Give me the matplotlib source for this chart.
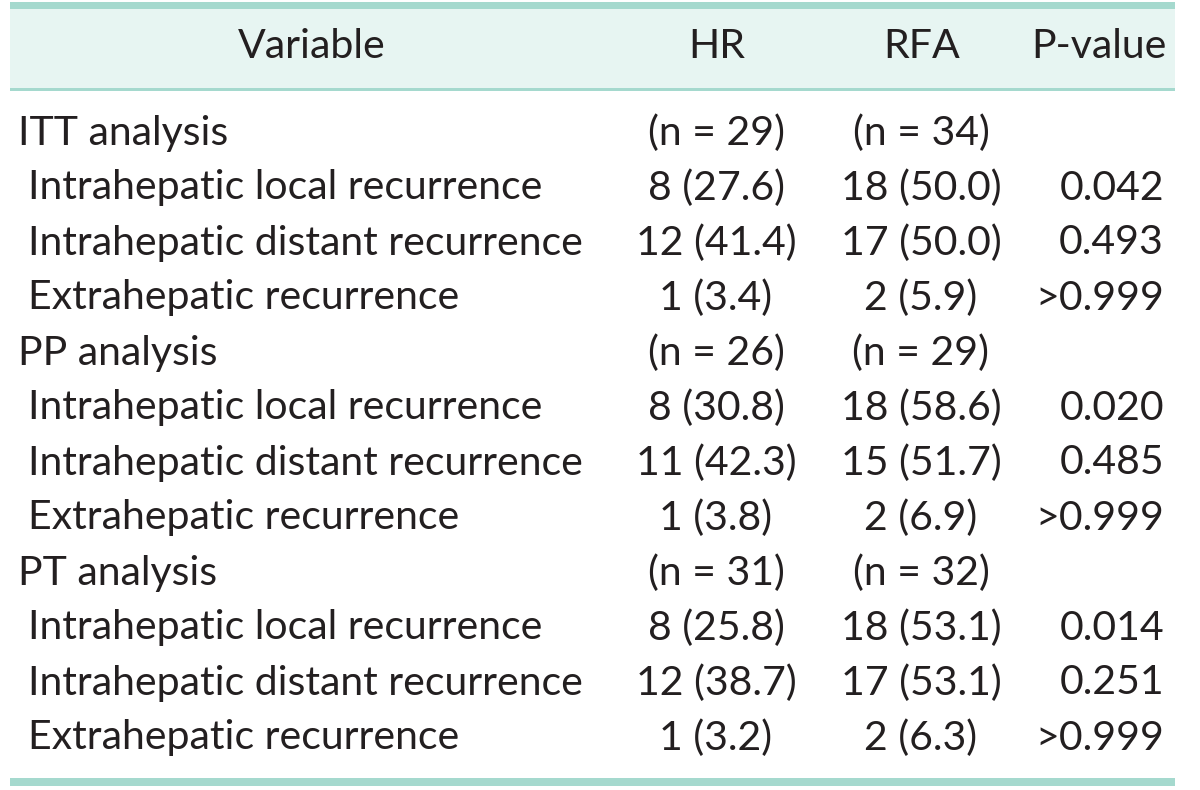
import matplotlib
matplotlib.use("Agg")
import matplotlib.pyplot as plt
from matplotlib.patches import Rectangle

headers = ["Variable", "HR", "RFA", "P-value"]
variables = ["ITT analysis", "Intrahepatic local recurrence", "Intrahepatic distant recurrence",
             "Extrahepatic recurrence",
             "PP analysis", "Intrahepatic local recurrence", "Intrahepatic distant recurrence",
             "Extrahepatic recurrence",
             "PT analysis", "Intrahepatic local recurrence", "Intrahepatic distant recurrence",
             "Extrahepatic recurrence"]
is_group = [True, False, False, False, True, False, False, False, True, False, False, False]
hr = ["(n = 29)", "8 (27.6)", "12 (41.4)", "1 (3.4)",
      "(n = 26)", "8 (30.8)", "11 (42.3)", "1 (3.8)",
      "(n = 31)", "8 (25.8)", "12 (38.7)", "1 (3.2)"]
rfa = ["(n = 34)", "18 (50.0)", "17 (50.0)", "2 (5.9)",
       "(n = 29)", "18 (58.6)", "15 (51.7)", "2 (6.9)",
       "(n = 32)", "18 (53.1)", "17 (53.1)", "2 (6.3)"]
pvals = ["", "0.042", "0.493", ">0.999",
         "", "0.020", "0.485", ">0.999",
         "", "0.014", "0.251", ">0.999"]

W, H = 1200, 790
fig = plt.figure(figsize=(W / 100, H / 100), dpi=100)
ax = fig.add_axes([0, 0, 1, 1])
ax.set_xlim(0, W)
ax.set_ylim(H, 0)
ax.axis("off")

line_col = "#a5d9ce"
bg_col = "#e7f5f2"
txt_col = "#231f20"
FONT = "Lato"
FS = 29.5

x0, x1 = 10, 1175
ax.add_patch(Rectangle((x0, 9), x1 - x0, 80, facecolor=bg_col, edgecolor="none"))
ax.add_patch(Rectangle((x0, 2), x1 - x0, 7, facecolor=line_col, edgecolor="none"))
ax.add_patch(Rectangle((x0, 88), x1 - x0, 2.5, facecolor=line_col, edgecolor="none"))
ax.add_patch(Rectangle((x0, 778), x1 - x0, 8, facecolor=line_col, edgecolor="none"))

kw = dict(fontsize=FS, family=FONT, color=txt_col, va="center")
hy = 47
ax.text(312, hy, headers[0], ha="center", **kw)
ax.text(717, hy, headers[1], ha="center", **kw)
ax.text(922, hy, headers[2], ha="center", **kw)
ax.text(1167, hy, headers[3], ha="right", **kw)

for i, name in enumerate(variables):
    y = 133 + i * 55
    ax.text(18 if is_group[i] else 28, y, name, ha="left", **kw)
    ax.text(716, y, hr[i], ha="center", **kw)
    ax.text(921, y, rfa[i], ha="center", **kw)
    if pvals[i]:
        ax.text(1164, y, pvals[i], ha="right", **kw)

fig.savefig("out.png", dpi=100, facecolor="white")
